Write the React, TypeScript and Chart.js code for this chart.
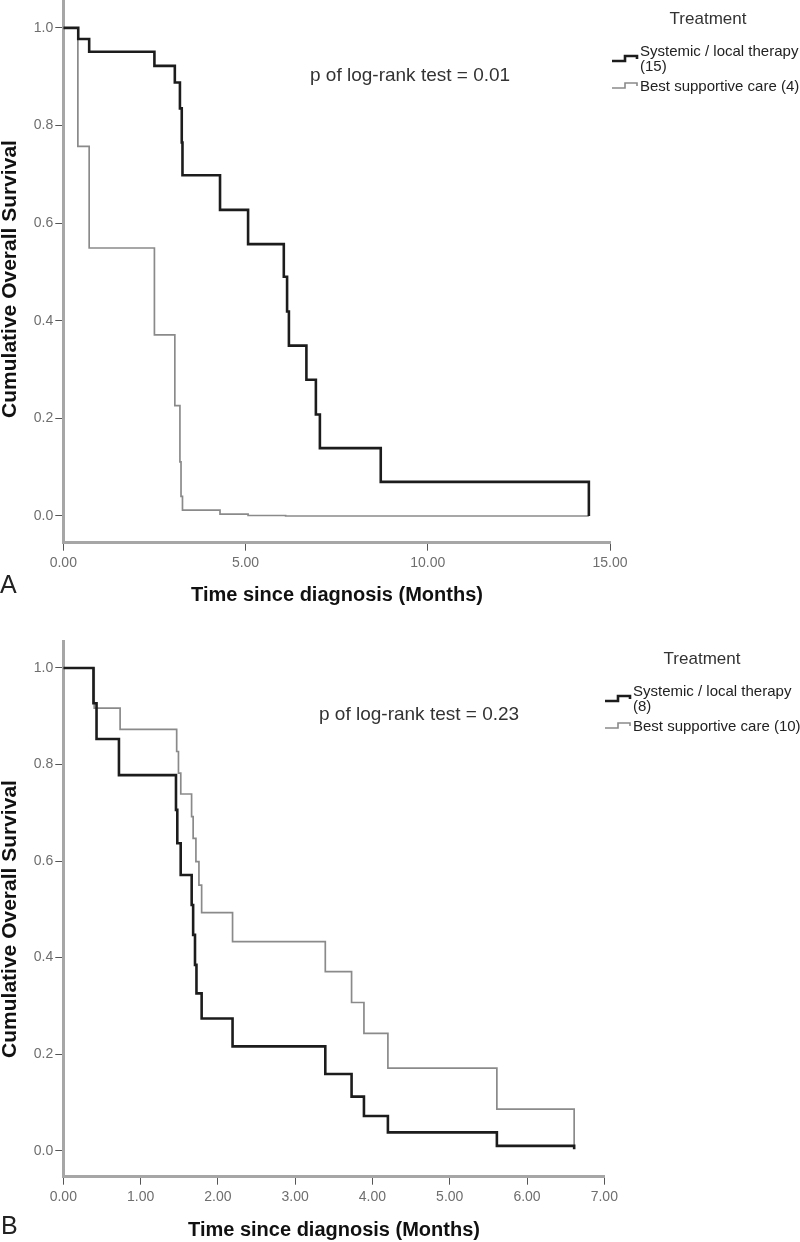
import React, { useEffect, useRef } from "react";
import { Chart, registerables } from "chart.js";

Chart.register(...registerables);

// ---------- data ----------
const SERIES_LABELS = ["Systemic / local therapy", "Best supportive care"];
const Y_TICKS = [0, 0.2, 0.4, 0.6, 0.8, 1.0];
const X_TICKS_A = [0, 5, 10, 15];
const X_TICKS_B = [0, 1, 2, 3, 4, 5, 6, 7];

// Panel A
const A_SYS_T = [0, 0.41, 0.71, 2.5, 3.06, 3.2, 3.25, 3.27, 4.3, 5.07, 6.05, 6.14, 6.19, 6.67, 6.93, 7.04, 8.71, 14.42];
const A_SYS_S = [1, 0.977, 0.951, 0.922, 0.888, 0.835, 0.765, 0.698, 0.627, 0.557, 0.49, 0.419, 0.349, 0.279, 0.208, 0.139, 0.07, 0.0];
const A_BSC_T = [0, 0.4, 0.71, 2.5, 3.06, 3.2, 3.23, 3.27, 4.3, 5.07, 6.1, 14.42];
const A_BSC_S = [1, 0.757, 0.549, 0.371, 0.226, 0.111, 0.04, 0.012, 0.004, 0.001, 0.0, 0.0];
const A_LEGEND = [["Systemic / local therapy", "(15)"], ["Best supportive care (4)"]];
const A_PTEXT = "p of log-rank test = 0.01";

// Panel B
const B_SYS_T = [0, 0.39, 0.43, 0.72, 1.458, 1.475, 1.519, 1.661, 1.68, 1.704, 1.723, 1.79, 2.19, 3.39, 3.73, 3.89, 4.2, 5.61, 6.61];
const B_SYS_S = [1, 0.927, 0.853, 0.778, 0.706, 0.637, 0.571, 0.509, 0.447, 0.385, 0.326, 0.274, 0.216, 0.159, 0.112, 0.072, 0.038, 0.01, 0.003];
const B_BSC_T = [0, 0.4, 0.735, 1.467, 1.49, 1.52, 1.66, 1.68, 1.716, 1.755, 1.79, 2.19, 3.39, 3.73, 3.89, 4.2, 5.61, 6.61];
const B_BSC_S = [1, 0.917, 0.873, 0.827, 0.782, 0.739, 0.692, 0.647, 0.599, 0.55, 0.493, 0.433, 0.371, 0.307, 0.243, 0.171, 0.086, 0.008];
const B_LEGEND = [["Systemic / local therapy", "(8)"], ["Best supportive care (10)"]];
const B_PTEXT = "p of log-rank test = 0.23";

const Y_TITLE = "Cumulative Overall Survival";
const X_TITLE = "Time since diagnosis (Months)";
const LEGEND_TITLE = "Treatment";

// ---------- layout ----------
const SANS = '"Liberation Sans", Arial, Helvetica, sans-serif';

type Panel = {
  letter: string;
  top: number;
  height: number;
  sysT: number[];
  sysS: number[];
  bscT: number[];
  bscS: number[];
  xMax: number;
  xTicks: number[];
  yMin: number;
  yMax: number;
  left: number;
  padRight: number;
  xScaleH: number;
  legend: string[][];
  pText: string;
  legX: number;
  legTitleX: number;
  pX: number;
  pY: number;
  letterX: number;
  letterY: number;
  xTitleX: number;
  xTitleY: number;
  yTitleY: number;
};

const PANELS: Panel[] = [
  {
    letter: "A",
    top: 0,
    height: 640,
    sysT: A_SYS_T,
    sysS: A_SYS_S,
    bscT: A_BSC_T,
    bscS: A_BSC_S,
    xMax: 15,
    xTicks: X_TICKS_A,
    yMin: -0.0547,
    yMax: 1.057,
    left: 63.3,
    padRight: 190,
    xScaleH: 640 - 542.7,
    legend: A_LEGEND,
    pText: A_PTEXT,
    legX: 612,
    legTitleX: 708,
    pX: 310,
    pY: 76,
    letterX: 0,
    letterY: 586,
    xTitleX: 337,
    xTitleY: 595,
    yTitleY: 279,
  },
  {
    letter: "B",
    top: 640,
    height: 602,
    sysT: B_SYS_T,
    sysS: B_SYS_S,
    bscT: B_BSC_T,
    bscS: B_BSC_S,
    xMax: 7,
    xTicks: X_TICKS_B,
    yMin: -0.0539,
    yMax: 1.058,
    left: 63.3,
    padRight: 800 - 604.3,
    xScaleH: 602 - 536.7,
    legend: B_LEGEND,
    pText: B_PTEXT,
    legX: 605,
    legTitleX: 702,
    pX: 319,
    pY: 75,
    letterX: 1,
    letterY: 587,
    xTitleX: 334,
    xTitleY: 590,
    yTitleY: 279,
  },
];

const SYS_COLOR = "#1c1c1c";
const BSC_COLOR = "#8a8a8a";

function annotations(p: Panel) {
  return {
    id: "annot" + p.letter,
    afterDraw(chart: any) {
      const ctx = chart.ctx as CanvasRenderingContext2D;
      ctx.save();
      // legend title
      ctx.fillStyle = "#333";
      ctx.font = `17px ${SANS}`;
      ctx.textAlign = "center";
      ctx.textBaseline = "middle";
      ctx.fillText(LEGEND_TITLE, p.legTitleX, 19);

      // legend items
      const textX = p.legX + 28;
      const items = [
        { lines: p.legend[0], color: SYS_COLOR, width: 2.6, y: 52 },
        { lines: p.legend[1], color: BSC_COLOR, width: 1.6, y: 87 },
      ];
      ctx.textAlign = "left";
      ctx.font = `15px ${SANS}`;
      ctx.fillStyle = "#222";
      items.forEach((it, idx) => {
        it.lines.forEach((ln, k) => ctx.fillText(ln, textX, it.y + k * 15));
        const low = idx === 0 ? it.y + 9 : it.y + 1;
        const high = low - 5;
        ctx.beginPath();
        ctx.strokeStyle = it.color;
        ctx.lineWidth = it.width;
        ctx.moveTo(p.legX, low);
        ctx.lineTo(p.legX + 13, low);
        ctx.lineTo(p.legX + 13, high);
        ctx.lineTo(p.legX + 25, high);
        ctx.lineTo(p.legX + 25, high + 3);
        ctx.stroke();
      });

      // p value text
      ctx.fillStyle = "#333";
      ctx.font = `19px ${SANS}`;
      ctx.textAlign = "left";
      ctx.fillText(p.pText, p.pX, p.pY);

      // panel letter
      ctx.fillStyle = "#222";
      ctx.font = `25px ${SANS}`;
      ctx.fillText(p.letter, p.letterX, p.letterY);

      // axis titles
      ctx.fillStyle = "#111";
      ctx.font = `bold 20px ${SANS}`;
      ctx.textAlign = "center";
      ctx.fillText(X_TITLE, p.xTitleX, p.xTitleY);
      ctx.font = `bold 21px ${SANS}`;
      ctx.translate(10, p.yTitleY);
      ctx.rotate(-Math.PI / 2);
      ctx.fillText(Y_TITLE, 0, 0);
      ctx.restore();
    },
  };
}

function buildConfig(p: Panel): any {
  const toPts = (t: number[], s: number[]) => t.map((x, i) => ({ x, y: s[i] }));
  return {
    type: "line",
    data: {
      datasets: [
        {
          label: SERIES_LABELS[0],
          data: toPts(p.sysT, p.sysS),
          borderColor: SYS_COLOR,
          borderWidth: 2.6,
          stepped: true,
          pointRadius: 0,
          fill: false,
        },
        {
          label: SERIES_LABELS[1],
          data: toPts(p.bscT, p.bscS),
          borderColor: BSC_COLOR,
          borderWidth: 1.7,
          stepped: true,
          pointRadius: 0,
          fill: false,
        },
      ],
    },
    options: {
      animation: false,
      responsive: false,
      maintainAspectRatio: false,
      layout: { padding: { left: 0, top: 0, right: p.padRight, bottom: 0 } },
      plugins: {
        legend: { display: false },
        tooltip: { enabled: false },
        title: { display: false },
      },
      scales: {
        x: {
          type: "linear",
          min: 0,
          max: p.xMax,
          afterBuildTicks: (s: any) => {
            s.ticks = p.xTicks.map((v) => ({ value: v }));
          },
          afterFit: (s: any) => {
            s.height = p.xScaleH;
            s.paddingLeft = 0;
            s.paddingRight = 0;
          },
          ticks: {
            callback: (v: any) => Number(v).toFixed(2),
            color: "#6e6e6e",
            font: { family: SANS, size: 14 },
            padding: 4,
            maxRotation: 0,
            autoSkip: false,
          },
          grid: {
            drawOnChartArea: false,
            drawTicks: true,
            tickLength: 8,
            tickColor: "#555",
            lineWidth: 1,
          },
          border: { display: true, color: "#a6a6a6", width: 3 },
        },
        y: {
          type: "linear",
          min: p.yMin,
          max: p.yMax,
          afterBuildTicks: (s: any) => {
            s.ticks = Y_TICKS.map((v) => ({ value: v }));
          },
          afterFit: (s: any) => {
            s.width = p.left;
            s.paddingTop = 0;
            s.paddingBottom = 0;
          },
          ticks: {
            callback: (v: any) => Number(v).toFixed(1),
            color: "#6e6e6e",
            font: { family: SANS, size: 14 },
            padding: 2,
            autoSkip: false,
          },
          grid: {
            drawOnChartArea: false,
            drawTicks: true,
            tickLength: 8,
            tickColor: "#555",
            lineWidth: 1,
          },
          border: { display: true, color: "#a6a6a6", width: 3 },
        },
      },
    },
    plugins: [annotations(p)],
  };
}

function PanelChart({ p }: { p: Panel }) {
  const ref = useRef<HTMLCanvasElement | null>(null);
  useEffect(() => {
    if (!ref.current) return;
    const chart = new Chart(ref.current, buildConfig(p));
    return () => chart.destroy();
  }, [p]);
  return (
    <canvas
      ref={ref}
      width={800}
      height={p.height}
      style={{ position: "absolute", left: 0, top: p.top, width: 800, height: p.height, display: "block" }}
    />
  );
}

export default function App() {
  return (
    <div style={{ position: "absolute", left: 0, top: 0, width: 800, height: 1242, background: "#fff" }}>
      {PANELS.map((p) => (
        <PanelChart key={p.letter} p={p} />
      ))}
    </div>
  );
}
